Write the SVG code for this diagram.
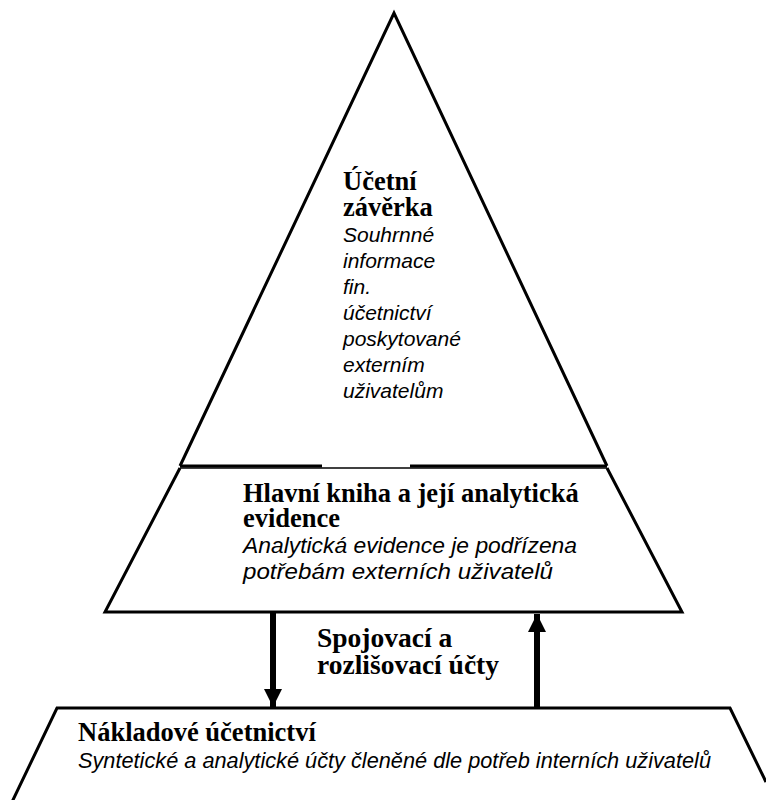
<svg xmlns="http://www.w3.org/2000/svg" width="766" height="800" viewBox="0 0 766 800">
<style>
.shape{fill:none;stroke:#000;stroke-width:3;stroke-linejoin:miter}
.b{font-family:"Liberation Serif","Times New Roman",serif;font-weight:bold;font-size:26.5px;fill:#000}
.i{font-family:"Liberation Sans",Arial,sans-serif;font-style:italic;font-size:21px;fill:#000}
.i2{font-family:"Liberation Sans",Arial,sans-serif;font-style:italic;font-size:22.5px;fill:#000}
.conn{stroke:#000;stroke-width:6;fill:none}
</style>
<defs>
<marker id="ah" viewBox="0 0 10 10" refX="10" refY="5" markerWidth="3" markerHeight="3" orient="auto" markerUnits="strokeWidth">
<path d="M0,0 L10,5 L0,10 z" fill="#000"/>
</marker>
</defs>
<rect width="766" height="800" fill="#fff"/>
<g id="triangle">
<path class="shape" d="M180,466 L394,13 L607,466"/>
<path class="shape" d="M180,466 L322,466 M410,466 L607,466"/>
<text class="b" x="343" y="190">Účetní</text>
<text class="b" x="343" y="216">závěrka</text>
<text class="i" x="343" y="242">Souhrnné</text>
<text class="i" x="343" y="268">informace</text>
<text class="i" x="343" y="294">fin.</text>
<text class="i" x="343" y="320">účetnictví</text>
<text class="i" x="343" y="346">poskytované</text>
<text class="i" x="343" y="372">externím</text>
<text class="i" x="343" y="398">uživatelům</text>
</g>
<g id="ledger">
<path d="M180,468 L607,468" stroke="#000" stroke-width="1.5"/>
<path class="shape" d="M180,468 L105,612 L682,612 L607,468"/>
<text class="b" x="243" y="502">Hlavní kniha a její analytická</text>
<text class="b" x="243" y="527">evidence</text>
<text class="i2" x="243" y="553" textLength="334" lengthAdjust="spacingAndGlyphs">Analytická evidence je podřízena</text>
<text class="i2" x="243" y="579" textLength="310" lengthAdjust="spacingAndGlyphs">potřebám externích uživatelů</text>
</g>
<g id="cost">
<path class="shape" d="M12,802 L57,708 L730,708 L766,782"/>
<text class="b" x="78" y="741">Nákladové účetnictví</text>
<text class="i2" x="78" y="768" textLength="633" lengthAdjust="spacingAndGlyphs">Syntetické a analytické účty členěné dle potřeb interních uživatelů</text>
</g>
<g id="connectors">
<line class="conn" x1="273" y1="613" x2="273" y2="707" marker-end="url(#ah)"/>
<line class="conn" x1="537" y1="707" x2="537" y2="614" marker-end="url(#ah)"/>
<text class="b" x="317" y="647" style="font-size:27.5px">Spojovací a</text>
<text class="b" x="317" y="674" style="font-size:27.5px">rozlišovací účty</text>
</g>
</svg>
